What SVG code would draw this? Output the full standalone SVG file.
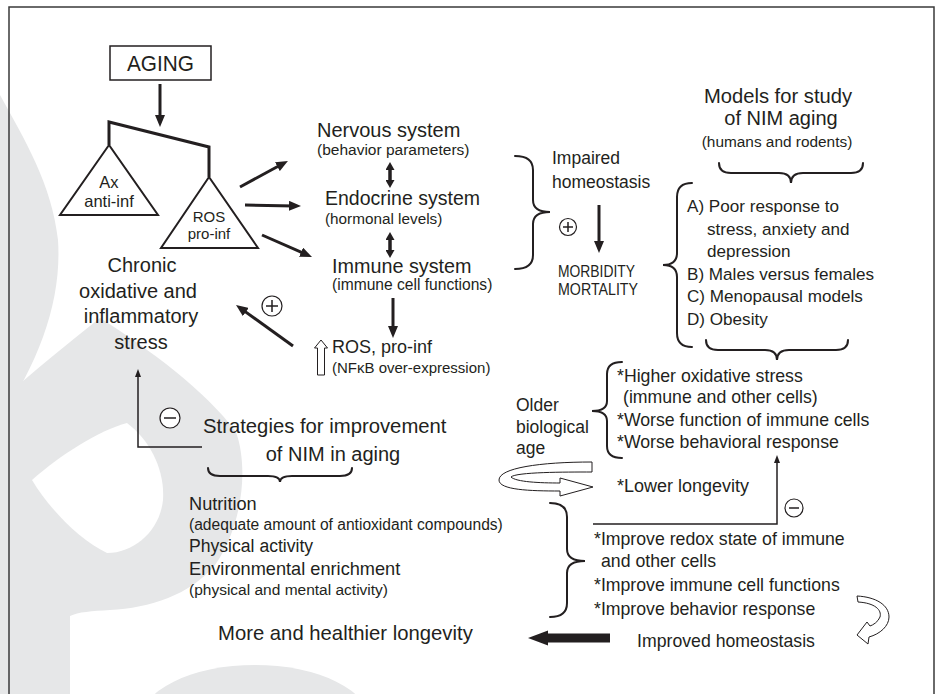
<svg xmlns="http://www.w3.org/2000/svg" width="938" height="694" viewBox="0 0 938 694">
  <style>
    text { font-family: "Liberation Sans", Arial, sans-serif; fill: #231f20; }
    .h { font-size: 20px; }
    .m { font-size: 17.7px; }
    .s { font-size: 15.5px; }
    .c { text-anchor: middle; }
    .ln { stroke: #231f20; fill: none; }
    .thick { stroke-width: 3; }
    .thin { stroke-width: 1.5; }
    .brace { stroke: #231f20; stroke-width: 2; fill: none; stroke-linecap: round; }
    .hollow { fill: #ffffff; stroke: #231f20; stroke-width: 1; stroke-linejoin: miter; }
    .wm { fill: #e6e7e8; }
    .sign { fill: #ffffff; stroke: #231f20; stroke-width: 1.2; }
  </style>
  <defs>
    <marker id="ah" markerUnits="userSpaceOnUse" viewBox="0 0 12 10" markerWidth="12" markerHeight="10" refX="5" refY="5" orient="auto">
      <path d="M0,0 L12,5 L0,10 Z" fill="#231f20"/>
    </marker>
    <marker id="dh" markerUnits="userSpaceOnUse" viewBox="0 0 8 9" markerWidth="8" markerHeight="9" refX="3" refY="4.5" orient="auto-start-reverse">
      <path d="M0,0 L8,4.5 L0,9 Z" fill="#231f20"/>
    </marker>
    <marker id="th" markerUnits="userSpaceOnUse" viewBox="0 0 8 6" markerWidth="8" markerHeight="6" refX="3" refY="3" orient="auto">
      <path d="M0,0 L8,3 L0,6 Z" fill="#231f20"/>
    </marker>
  </defs>

  <rect width="938" height="694" fill="#ffffff"/>

  <!-- pale background emblem -->
  <g id="emblem">
    <path class="wm" d="M0,95 C25,140 52,185 58,240 C62,300 40,360 0,420 Z"/>
    <path class="wm" d="M100,318 C150,350 205,390 236,432 C250,472 240,530 215,565 C190,595 150,608 110,610 C92,611 78,612 70,616 L70,694 L0,694 L0,402 C32,372 70,342 100,318 Z"/>
    <path d="M32,480 C60,455 100,430 127,423 C150,440 165,470 163,500 C160,530 135,553 107,553 C80,540 50,510 32,480 Z" fill="#ffffff"/>
    <ellipse class="wm" cx="255" cy="722" rx="115" ry="57"/>
  </g>

  <!-- frame -->
  <path d="M9,694 V7 H934 V694" stroke="#3a3a3a" stroke-width="1.5" fill="none"/>

  <!-- nodes -->
  <g id="aging">
    <rect x="110" y="46" width="101" height="34" fill="#ffffff" stroke="#231f20" stroke-width="1.5"/>
    <text x="160.5" y="70.5" class="c" font-size="21.5" textLength="67" lengthAdjust="spacingAndGlyphs">AGING</text>
  </g>

  <g id="antioxidant">
    <path d="M109,145 L60,215 L158,215 Z" fill="none" stroke="#231f20" stroke-width="2"/>
    <text x="109" y="188" class="c" font-size="16.5">Ax</text>
    <text x="109" y="207" class="c" font-size="16.5">anti-inf</text>
  </g>

  <g id="pro-oxidant">
    <path d="M209,177 L161,248 L258,248 Z" fill="none" stroke="#231f20" stroke-width="2"/>
    <text x="209" y="222" class="c" font-size="15">ROS</text>
    <text x="209" y="239" class="c" font-size="15">pro-inf</text>
  </g>

  <g id="nervous">
    <text x="317" y="137" class="h">Nervous system</text>
    <text x="317" y="154.5" class="s">(behavior parameters)</text>
  </g>

  <g id="endocrine">
    <text x="325" y="205" font-size="19.5">Endocrine system</text>
    <text x="325" y="223.5" font-size="15.3">(hormonal levels)</text>
  </g>

  <g id="immune">
    <text x="332" y="272.5" font-size="19.8">Immune system</text>
    <text x="332" y="289.5" font-size="15.6">(immune cell functions)</text>
  </g>

  <g id="ros-output">
    <path class="hollow" d="M321,340 L327.5,348 L324.5,348 L324.5,375 L317.5,375 L317.5,348 L314.5,348 Z"/>
    <text x="332" y="353" font-size="18">ROS, pro-inf</text>
    <text x="332" y="373" font-size="15">(NFκB over-expression)</text>
  </g>

  <g id="chronic-stress">
    <text x="142" y="272" class="h c">Chronic</text>
    <text x="138" y="297.5" class="h c">oxidative and</text>
    <text x="141" y="323" class="h c">inflammatory</text>
    <text x="141" y="348.5" class="h c">stress</text>
  </g>

  <g id="impaired">
    <text x="552" y="164" font-size="17.5">Impaired</text>
    <text x="552" y="188" font-size="17.5">homeostasis</text>
  </g>

  <g id="outcome">
    <text x="558" y="277" font-size="16.5" textLength="77" lengthAdjust="spacingAndGlyphs">MORBIDITY</text>
    <text x="558" y="295" font-size="16.5" textLength="80" lengthAdjust="spacingAndGlyphs">MORTALITY</text>
  </g>

  <g id="models-title">
    <text x="778" y="103" class="c" font-size="20.2">Models for study</text>
    <text x="781" y="125" class="h c">of NIM aging</text>
    <text x="777" y="147" class="c" font-size="15.4">(humans and rodents)</text>
  </g>

  <g id="models-list">
    <text x="687" y="212" font-size="17.1">A) Poor response to</text>
    <text x="707" y="235" font-size="17.1">stress, anxiety and</text>
    <text x="707" y="257" font-size="17.1">depression</text>
    <text x="687" y="280" font-size="17.1">B) Males versus females</text>
    <text x="687" y="302" font-size="17.1">C) Menopausal models</text>
    <text x="687" y="325" font-size="17.1">D) Obesity</text>
  </g>

  <g id="older-age">
    <text x="516" y="411" font-size="17.5">Older</text>
    <text x="516" y="433" font-size="17.5">biological</text>
    <text x="516" y="454" font-size="17.5">age</text>
  </g>

  <g id="aging-effects">
    <text x="617" y="382" class="m">*Higher oxidative stress</text>
    <text x="623" y="403" class="m">(immune and other cells)</text>
    <text x="617" y="426" class="m">*Worse function of immune cells</text>
    <text x="617" y="448" class="m">*Worse behavioral response</text>
    <text x="617" y="492" font-size="18">*Lower longevity</text>
  </g>

  <g id="strategies">
    <text x="203" y="433" font-size="20.3">Strategies for improvement</text>
    <text x="333" y="461" class="h c">of NIM in aging</text>
  </g>

  <g id="interventions">
    <text x="189" y="510" font-size="18.2">Nutrition</text>
    <text x="189" y="530" font-size="15.6">(adequate amount of antioxidant compounds)</text>
    <text x="189" y="552" font-size="17.6">Physical activity</text>
    <text x="189" y="575" font-size="18.2">Environmental enrichment</text>
    <text x="189" y="595" class="s">(physical and mental activity)</text>
  </g>

  <g id="improvements">
    <text x="594" y="545" class="m">*Improve redox state of immune</text>
    <text x="601" y="567" class="m">and other cells</text>
    <text x="594" y="591" class="m">*Improve immune cell functions</text>
    <text x="594" y="615" class="m">*Improve behavior response</text>
  </g>

  <g id="improved-homeostasis">
    <text x="637" y="647" class="m">Improved homeostasis</text>
  </g>

  <g id="longevity">
    <text x="218" y="640" font-size="20.3">More and healthier longevity</text>
  </g>

  <!-- connectors -->
  <g id="connectors">
    <line class="ln thick" x1="160" y1="84" x2="160" y2="120" marker-end="url(#ah)"/>
    <polyline class="ln thick" points="109,145 109,122 209,147 209,177"/>

    <line class="ln thick" x1="240" y1="187" x2="281.8" y2="164.3" marker-end="url(#ah)"/>
    <line class="ln thick" x1="245" y1="205" x2="294" y2="205.9" marker-end="url(#ah)"/>
    <line class="ln thick" x1="262" y1="235" x2="305.6" y2="254.2" marker-end="url(#ah)"/>

    <line class="ln" stroke-width="3.5" x1="390" y1="167" x2="390" y2="183" marker-start="url(#dh)" marker-end="url(#dh)"/>
    <line class="ln" stroke-width="3.5" x1="390" y1="237" x2="390" y2="253" marker-start="url(#dh)" marker-end="url(#dh)"/>

    <line class="ln thick" x1="393" y1="298" x2="393" y2="331" marker-end="url(#ah)"/>
    <line class="ln thick" x1="293" y1="346" x2="241.7" y2="309.1" marker-end="url(#ah)"/>
    <circle class="sign" cx="272" cy="306" r="10"/>
    <path class="ln" stroke-width="1.5" d="M266,306 H278 M272,300 V312"/>

    <path class="brace" d="M515,156 Q533,156 533,170 L533,200 Q533,212 550,212 Q533,212 533,224 L533,255 Q533,269 515,269"/>
    <circle class="sign" cx="568" cy="227" r="8.5"/>
    <path class="ln" stroke-width="1.5" d="M563,227 H573 M568,222 V232"/>
    <line class="ln thick" x1="599" y1="205" x2="599" y2="246" marker-end="url(#ah)"/>

    <path class="brace" d="M719,163 Q719,173 731,173 L779,173 Q791,173 791,183 Q791,173 803,173 L851,173 Q863,173 863,163"/>
    <path class="brace" d="M692,183 Q677,183 677,197 L677,253 Q677,265 663,265 Q677,265 677,277 L677,333 Q677,347 692,347"/>
    <path class="brace" d="M706,340 Q706,350 718,350 L765,350 Q777,350 777,360 Q777,350 789,350 L836,350 Q848,350 848,340"/>

    <path class="brace" d="M622,362 Q607,362 607,374 L607,401 Q607,411 592,411 Q607,411 607,421 L607,446 Q607,458 622,458"/>
    <path class="hollow" d="M592,462 L592,472 C565,472 516,472 511,477 C516,482 540,483 560,483 L560,478 L593,487 L560,496 L560,491 C530,491 499,490 499,480 C499,468 540,462 592,462 Z"/>

    <path class="ln thin" d="M202,447 H138 V374" marker-end="url(#th)"/>
    <circle class="sign" cx="170" cy="418" r="10"/>
    <path class="ln" stroke-width="1.5" d="M164,418 H176"/>
    <path class="brace" d="M208,468 Q208,476 220,476 L268,476 Q280,476 280,482 Q280,476 292,476 L340,476 Q352,476 352,468"/>

    <path class="brace" d="M550,503 Q567,503 567,517 L567,549 Q567,561 585,561 Q567,561 567,573 L567,603 Q567,617 550,617"/>
    <path class="ln thin" d="M593,524 H777 V460" marker-end="url(#th)"/>
    <circle class="sign" cx="794" cy="508" r="9"/>
    <path class="ln" stroke-width="1.5" d="M789,508 H799"/>

    <path class="hollow" d="M857,596 L858,602 C875,603 882,610 880,617 C878,622 873,625 870,626 L867,622 L857,635 L868,644 L869,637 C880,634 889,626 889,617 C889,605 876,597 857,596 Z"/>
    <path d="M610,633.5 L548,633.5 L548,630.5 L528,638 L548,645.5 L548,642.5 L610,642.5 Z" fill="#231f20"/>
  </g>
</svg>
